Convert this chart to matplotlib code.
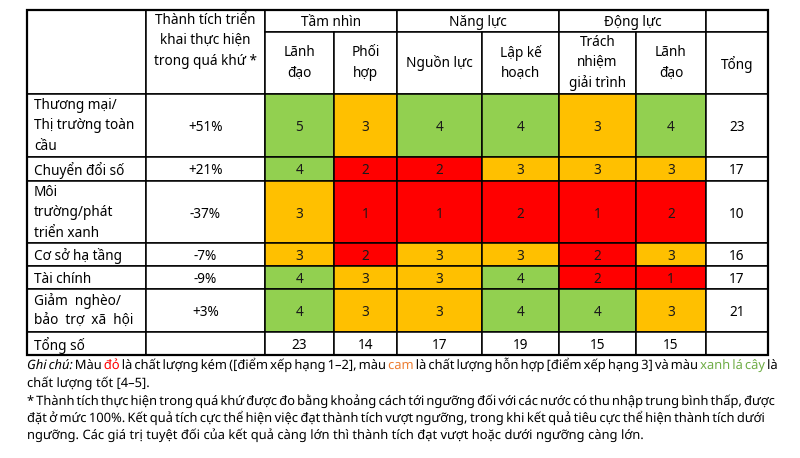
import matplotlib.pyplot as plt
import matplotlib.patheffects as pe
from matplotlib.patches import Rectangle

plt.rcParams['font.family'] = ['Noto Sans', 'DejaVu Sans']

# data
rows = ["Thương mại/\nThị trường toàn\ncầu", "Chuyển đổi số", "Môi\ntrường/phát\ntriển xanh",
        "Cơ sở hạ tầng", "Tài chính", "Giảm  nghèo/\nbảo  trợ  xã  hội"]
perf = ["+51%", "+21%", "-37%", "-7%", "-9%", "+3%"]
groups = ["Tầm nhìn", "Năng lực", "Động lực"]
subcols = ["Lãnh\nđạo", "Phối\nhợp", "Nguồn lực", "Lập kế\nhoạch", "Trách\nnhiệm\ngiải trình", "Lãnh\nđạo"]
scores = [
    [5, 3, 4, 4, 3, 4],
    [4, 2, 2, 3, 3, 3],
    [3, 1, 1, 2, 1, 2],
    [3, 2, 3, 3, 2, 3],
    [4, 3, 3, 4, 2, 1],
    [4, 3, 3, 4, 4, 3],
]
row_totals = [23, 17, 10, 16, 17, 21]
col_totals = [23, 14, 17, 19, 15, 15]
perf_header = "Thành tích triển\nkhai thực hiện\ntrong quá khứ *"

# layout (pixels)
xs = [27, 146, 265, 334, 397, 482, 559, 636, 706, 768]
ys = [10, 32, 94, 157, 181, 243, 266, 289, 332, 355]
FS = 9.8
LS = 1.48


def score_color(v):
    if v <= 2:
        return '#FF0000'
    if v == 3:
        return '#FFC000'
    return '#92D050'


fig = plt.figure(figsize=(8, 4.58), dpi=100)
ax = fig.add_axes([0, 0, 1, 1])
ax.set_xlim(0, 800)
ax.set_ylim(458, 0)
ax.axis('off')


def cell(x0, x1, y0, y1, fc='white'):
    ax.add_patch(Rectangle((x0, y0), x1 - x0, y1 - y0, facecolor=fc,
                           edgecolor='black', lw=1.1))


def label(x, y, s, ha='center', **kw):
    ax.text(x, y, s, ha=ha, va='center_baseline', fontsize=FS, linespacing=LS, **kw)


# header
cell(xs[0], xs[1], ys[0], ys[2])
cell(xs[1], xs[2], ys[0], ys[2])
ax.text((xs[1] + xs[2]) / 2, ys[0] + 3, perf_header, ha='center', va='top',
        fontsize=FS, linespacing=LS)
for g, name in enumerate(groups):
    x0, x1 = xs[2 + 2 * g], xs[4 + 2 * g]
    cell(x0, x1, ys[0], ys[1])
    label((x0 + x1) / 2, (ys[0] + ys[1]) / 2, name)
cell(xs[8], xs[9], ys[0], ys[1])
for j, name in enumerate(subcols):
    cell(xs[2 + j], xs[3 + j], ys[1], ys[2])
    ax.text((xs[2 + j] + xs[3 + j]) / 2, (ys[1] + ys[2]) / 2, name, ha='center',
            va='center', fontsize=FS, linespacing=LS)
cell(xs[8], xs[9], ys[1], ys[2])
label((xs[8] + xs[9]) / 2, (ys[1] + ys[2]) / 2, "Tổng")

# body
for i, name in enumerate(rows):
    y0, y1 = ys[2 + i], ys[3 + i]
    ym = (y0 + y1) / 2
    cell(xs[0], xs[1], y0, y1)
    if '\n' in name:
        ax.text(xs[0] + 7, y0 + 4, name, ha='left', va='top', fontsize=FS, linespacing=LS)
    else:
        label(xs[0] + 7, ym, name, ha='left')
    cell(xs[1], xs[2], y0, y1)
    label((xs[1] + xs[2]) / 2, ym, perf[i])
    for j, v in enumerate(scores[i]):
        cell(xs[2 + j], xs[3 + j], y0, y1, score_color(v))
        label((xs[2 + j] + xs[3 + j]) / 2, ym, str(v), color='#1a1a1a')
    cell(xs[8], xs[9], y0, y1)
    label((xs[8] + xs[9]) / 2, ym, str(row_totals[i]))

# totals row
y0, y1 = ys[8], ys[9]
ym = (y0 + y1) / 2
cell(xs[0], xs[1], y0, y1)
label(xs[0] + 7, ym, "Tổng số", ha='left')
cell(xs[1], xs[2], y0, y1)
for j, v in enumerate(col_totals):
    cell(xs[2 + j], xs[3 + j], y0, y1)
    label((xs[2 + j] + xs[3 + j]) / 2, ym, str(v))
cell(xs[8], xs[9], y0, y1)

# outer frame
ax.add_patch(Rectangle((xs[0], ys[0]), xs[-1] - xs[0], ys[-1] - ys[0], fill=False,
                       edgecolor='black', lw=1.6))

# footnotes, word by word so lines can be justified
# (drawn through a path effect so every word sits on the same baseline)
NOTE_FS = 9.3
fig.canvas.draw()
renderer = fig.canvas.get_renderer()


def text_width(s, style='normal'):
    t = ax.text(0, 0, s, fontsize=NOTE_FS, style=style)
    w = t.get_window_extent(renderer).width
    t.remove()
    return w


SPACE = text_width('a a') - text_width('aa')


def note_line(segments, y, justify, x0=27, x1=765):
    items = []
    for text, color, style in segments:
        for w in text.split(' '):
            if w:
                t = ax.text(0, y, w, ha='left', va='baseline', fontsize=NOTE_FS,
                            color=color, style=style, path_effects=[pe.Normal()])
                items.append((t, t.get_window_extent(renderer).width))
    total = sum(w for _, w in items)
    gap = (x1 - x0 - total) / (len(items) - 1) if justify else SPACE
    gap = max(gap, SPACE * 0.6)
    x = x0
    for t, w in items:
        t.set_x(x)
        x += w + gap


K = 'black'
note_line([("Ghi chú:", K, 'italic'), ("Màu", K, 'normal'), ("đỏ", '#FF0000', 'normal'),
           ("là chất lượng kém ([điểm xếp hạng 1–2], màu", K, 'normal'), ("cam", '#ED7D31', 'normal'),
           ("là chất lượng hỗn hợp [điểm xếp hạng 3] và màu", K, 'normal'),
           ("xanh lá cây", '#70AD47', 'normal'), ("là", K, 'normal')], 369, True)
note_line([("chất lượng tốt [4–5].", K, 'normal')], 387, False)
note_line([("* Thành tích thực hiện trong quá khứ được đo bằng khoảng cách tới ngưỡng đối với các nước "
            "có thu nhập trung bình thấp, được", K, 'normal')], 405, True)
note_line([("đặt ở mức 100%. Kết quả tích cực thể hiện việc đạt thành tích vượt ngưỡng, trong khi kết quả "
            "tiêu cực thể hiện thành tích dưới", K, 'normal')], 422, True)
note_line([("ngưỡng. Các giá trị tuyệt đối của kết quả càng lớn thì thành tích đạt vượt hoặc dưới "
            "ngưỡng càng lớn.", K, 'normal')], 439, False)

fig.savefig('out.png', dpi=100)
